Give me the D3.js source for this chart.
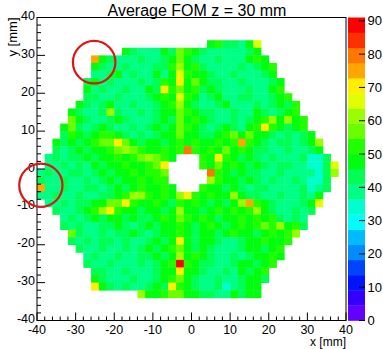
<!DOCTYPE html>
<html><head><meta charset="utf-8">
<script src="https://cdn.jsdelivr.net/npm/d3@7"></script>
<style>
body{margin:0;background:#fff}
svg{display:block}
text{font-family:"Liberation Sans",Arial,Helvetica,sans-serif;fill:#000}
</style>
</head><body>
<svg id="chart" width="383" height="349"></svg>
<script>
// ---------- data ----------
const title = "Average FOM z = 30 mm";
const xTitle = "x [mm]";
const yTitle = "y [mm]";
const xTicks = [-40, -30, -20, -10, 0, 10, 20, 30, 40];
const yTicks = [-40, -30, -20, -10, 0, 10, 20, 30, 40];
const zTicks = [0, 10, 20, 30, 40, 50, 60, 70, 80, 90];
const xDomain = [-40, 40];
const yDomain = [-40, 40];
const zMax = 91;
const nContours = 20;
const binSize = 2;
// FOM value read for each colour level of a cell
const levelValue = {"7":34,"8":39,"9":43,"a":48,"b":52,"c":57,"d":61,"e":66,"f":70,"g":75,"h":79,"i":84,"j":89};
// each row: lower y edge of bin, lower x edge of first bin, cell levels ('-' = empty)
const fomRows = [
  {y: 32, x0: 4,   cells: "ab998ae"},
  {y: 30, x0: -18, cells: "a9888a9cba9888889a"},
  {y: 28, x0: -26, cells: "ga98889889aca9889888aba"},
  {y: 26, x0: -26, cells: "a988988899bdab98888989ab"},
  {y: 24, x0: -26, cells: "889a8988a8aebaa98898889a"},
  {y: 22, x0: -28, cells: "9a89888989bafaca998898889a"},
  {y: 20, x0: -28, cells: "a8988988a9fbcab9a9888988ab"},
  {y: 18, x0: -28, cells: "998898889abaeba89a8899889ab"},
  {y: 16, x0: -30, cells: "a989a889889abda9889a888989a9b"},
  {y: 14, x0: -32, cells: "a9889d988989aacba9988988a989ab"},
  {y: 12, x0: -32, cells: "ca9889a98889a9caba988989abdadab"},
  {y: 10, x0: -34, cells: "ac989a988989a9acba989a98abfba9ab"},
  {y: 8,  x0: -34, cells: "9ba9abba98989aacaa99abcacaa98989a"},
  {y: 6,  x0: -36, cells: "a9a9abccfca9aa9ababaababgba989989ad"},
  {y: 4,  x0: -36, cells: "989a9aabcdcbaababhbabacaba99889889a"},
  {y: 2,  x0: -38, cells: "89899a9aababcdcba---bafba9a9898889779"},
  {y: 0,  x0: -38, cells: "889898a9aabaabcf----bacaba9a989988779e"},
  {y: -2, x0: -40, cells: "89889989a9aababbc-----hba9a99889888879d"},
  {y: -4, x0: -40, cells: "988988989a9aababb-----dbaa9a9898898779"},
  {y: -6, x0: -40, cells: "g889889989a9abaaba---baa9a989988889789"},
  {y: -8, x0: -40, cells: "8898898899abddbabadfbabaada998898898a"},
  {y: -10, x0: -38, cells: "889899aaccfbaaba9baba9a9adgba98889ae"},
  {y: -12, x0: -36, cells: "9889abdfbaa9aa9adaa9abababda988989"},
  {y: -14, x0: -34, cells: "8989a9aa9a99abacbaba9aababab9898"},
  {y: -16, x0: -34, cells: "9898899a989a9aaba9aba9ababcbdab9"},
  {y: -18, x0: -32, cells: "c9889899a989aaba9aa9abaa9ababd"},
  {y: -20, x0: -32, cells: "98989989889a9afa9aa9889aabaab"},
  {y: -22, x0: -30, cells: "988988989a9abca9a98889aa9ab"},
  {y: -24, x0: -28, cells: "898898899a9adaba988989aaba"},
  {y: -26, x0: -28, cells: "9889888989abjba99889aa9ab"},
  {y: -28, x0: -26, cells: "998898889aafaa98898a9ab"},
  {y: -30, x0: -26, cells: "a98889889abca9889889aa9"},
  {y: -32, x0: -26, cells: "fa989889a9fba9889789aa"},
  {y: -34, x0: -14, cells: "daabccaa9988a9aa"}
];
// red annotation circles (data coords, radius in mm)
const marks = [{x: -25.2, y: 28.2, r: 5.5}, {x: -39.0, y: -4.3, r: 5.6}];

// ---------- layout ----------
const frame = {left: 37, right: 346, top: 17.5, bottom: 320.5};
const bar = {left: 348, right: 365};
const svg = d3.select("#chart");
const x = d3.scaleLinear().domain(xDomain).range([frame.left, frame.right]);
const y = d3.scaleLinear().domain(yDomain).range([frame.bottom, frame.top]);
const z = d3.scaleLinear().domain([0, zMax]).range([frame.bottom, frame.top]);
const bw = zMax / nContours;
function paletteColor(k) {
  const i = Math.floor((k + 0.99) * 50 / nContours);
  const h = 280 - (i + 1) * 5.6;
  return d3.hsl(h, 1, 0.5).formatHex();
}
const level = v => Math.max(0, Math.min(nContours - 1, Math.floor(v / bw)));

const cells = [];
fomRows.forEach(row => {
  [...row.cells].forEach((ch, i) => {
    if (ch === "-") return;
    cells.push({x: row.x0 + i * binSize, y: row.y, v: levelValue[ch]});
  });
});

svg.append("g").selectAll("rect").data(cells).join("rect")
  .attr("x", d => x(d.x))
  .attr("y", d => y(d.y + binSize))
  .attr("width", d => x(d.x + binSize) - x(d.x) + 0.4)
  .attr("height", d => y(d.y) - y(d.y + binSize) + 0.4)
  .attr("fill", d => paletteColor(level(d.v)));

// frame
svg.append("rect")
  .attr("x", frame.left).attr("y", frame.top)
  .attr("width", frame.right - frame.left).attr("height", frame.bottom - frame.top)
  .attr("fill", "none").attr("stroke", "#000").attr("stroke-width", 1);

// ticks
const minorX = d3.range(xDomain[0], xDomain[1] + 0.001, 2);
const minorY = d3.range(yDomain[0], yDomain[1] + 0.001, 2);
const isMajor = d => Math.abs(d % 10) < 1e-9;
svg.append("g").selectAll("line").data(minorX).join("line")
  .attr("x1", d => x(d)).attr("x2", d => x(d))
  .attr("y1", frame.bottom).attr("y2", d => frame.bottom - (isMajor(d) ? 8 : 4))
  .attr("stroke", "#000").attr("stroke-width", 1);
svg.append("g").selectAll("line").data(minorY).join("line")
  .attr("y1", d => y(d)).attr("y2", d => y(d))
  .attr("x1", frame.left).attr("x2", d => frame.left + (isMajor(d) ? 8 : 4))
  .attr("stroke", "#000").attr("stroke-width", 1);

// tick labels
svg.append("g").selectAll("text").data(xTicks).join("text")
  .attr("x", d => x(d)).attr("y", 333.5)
  .attr("text-anchor", "middle").attr("font-size", 12.5)
  .text(d => d);
svg.append("g").selectAll("text").data(yTicks).join("text")
  .attr("x", frame.left - 2).attr("y", d => y(d) + 2.5)
  .attr("text-anchor", "end").attr("font-size", 12.5)
  .text(d => d);

// titles
svg.append("text").attr("x", 197).attr("y", 15.5)
  .attr("text-anchor", "middle").attr("font-size", 16).text(title);
svg.append("text").attr("x", frame.right).attr("y", 346)
  .attr("text-anchor", "end").attr("font-size", 12).text(xTitle);
svg.append("text").attr("transform", `translate(17,${frame.top}) rotate(-90)`)
  .attr("text-anchor", "end").attr("font-size", 13).text(yTitle);

// colour bar
const levels = d3.range(nContours);
svg.append("g").selectAll("rect").data(levels).join("rect")
  .attr("x", bar.left).attr("width", bar.right - bar.left)
  .attr("y", k => z((k + 1) * bw)).attr("height", k => z(k * bw) - z((k + 1) * bw) + 0.3)
  .attr("fill", k => paletteColor(k));
svg.append("g").selectAll("line").data(zTicks).join("line")
  .attr("x1", bar.right - 6).attr("x2", bar.right)
  .attr("y1", d => z(d)).attr("y2", d => z(d))
  .attr("stroke", "#000").attr("stroke-width", 1);
svg.append("g").selectAll("text").data(zTicks).join("text")
  .attr("x", bar.right + 2.5).attr("y", d => z(d) + 4.5)
  .attr("font-size", 13).text(d => d);

// annotation circles
svg.append("g").selectAll("circle").data(marks).join("circle")
  .attr("cx", d => x(d.x)).attr("cy", d => y(d.y))
  .attr("r", d => x(d.r) - x(0))
  .attr("fill", "none").attr("stroke", "#dd1515").attr("stroke-width", 2.2);
</script>
</body></html>
